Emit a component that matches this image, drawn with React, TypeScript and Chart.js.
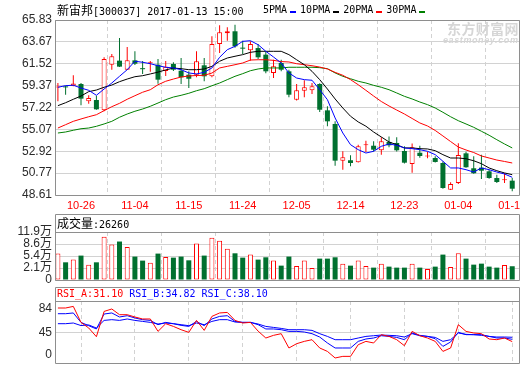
import React, { useEffect, useRef } from "react";
import { Chart, registerables } from "chart.js";

Chart.register(...registerables);

// ---------- data ----------
const STOCK_NAME = "新宙邦";
const STOCK_CODE = "300037";
const STAMP = "2017-01-13 15:00";
const VOLUME_LABEL = "成交量";
const VOLUME_NOW = "26260";

const X_TICK_POS = [3, 10, 17, 24, 31, 38, 45, 52, 59];
const X_LABELS = ["10-26", "11-04", "11-15", "11-24", "12-05", "12-14", "12-23", "01-04", "01-13"];

const OPEN = [59.20,59.24,59.37,59.53,57.83,57.96,56.94,61.43,61.83,60.94,61.86,61.05,61.57,61.43,60.81,61.50,60.84,60.45,60.45,61.37,60.29,63.47,64.52,64.72,63.05,62.85,63.07,62.42,60.62,61.60,60.78,57.99,58.87,58.91,59.53,56.94,55.60,51.99,52.03,51.83,53.50,53.46,53.01,53.83,53.73,52.94,51.66,52.77,52.40,52.25,51.76,49.13,49.79,52.71,51.24,51.30,50.94,50.28,50.06,50.02];
const HIGH = [59.63,59.37,60.39,59.63,58.42,58.38,62.16,62.48,64.06,63.17,62.75,61.80,61.80,61.99,61.80,61.67,62.09,60.78,62.75,62.09,64.23,65.31,65.11,65.37,63.79,63.73,63.47,62.75,61.93,61.93,60.94,59.53,59.90,59.63,59.60,57.34,55.86,52.91,52.52,53.56,53.95,53.89,54.29,54.37,54.29,53.40,53.67,53.46,52.87,52.42,51.90,49.86,53.70,52.87,52.42,52.56,51.10,50.60,50.78,50.28];
const LOW = [57.83,58.48,59.30,57.44,57.59,57.00,56.85,60.94,61.20,60.90,61.40,60.52,60.75,59.56,60.32,60.80,59.53,59.14,60.19,59.80,60.20,62.58,63.79,63.10,62.48,61.83,62.00,60.60,60.12,60.78,58.22,57.90,58.22,58.55,56.78,55.37,51.50,51.10,51.43,51.80,52.84,52.90,52.58,53.30,52.90,51.70,50.81,52.28,52.22,51.80,49.23,49.10,49.70,51.30,50.70,50.19,50.20,49.80,49.79,48.98];
const CLOSE = [59.24,59.20,59.57,58.09,58.16,57.04,61.99,62.26,61.24,61.86,61.53,60.99,61.65,59.96,61.24,60.94,60.19,60.05,61.77,60.29,63.47,64.62,64.72,63.24,63.01,63.47,62.16,60.78,61.27,60.94,58.48,58.91,59.21,59.31,57.00,55.86,51.99,52.32,51.76,53.40,53.60,53.07,53.89,53.50,53.01,51.79,53.30,52.45,52.45,51.86,49.30,49.69,52.55,51.34,50.75,51.00,50.28,49.89,50.12,49.23];

const MA5 = [59.21,59.37,59.41,59.14,58.91,58.42,59.04,59.63,60.29,60.94,61.77,61.67,61.53,61.33,61.18,61.11,60.94,60.62,60.52,60.68,61.11,62.16,62.91,63.24,63.73,63.79,63.40,62.75,62.19,61.60,60.62,60.12,59.96,59.90,58.97,57.99,56.19,54.71,53.56,53.07,52.74,52.91,53.40,53.63,53.50,53.24,53.17,53.07,52.91,52.58,51.93,51.27,51.27,51.10,50.87,51.27,51.10,50.87,50.68,50.35];
const MA10 = [57.40,57.69,58.03,58.35,58.78,58.94,59.21,59.43,59.76,60.02,60.25,60.35,60.52,60.70,60.92,61.10,61.04,60.94,60.94,61.01,61.27,61.77,62.09,62.26,62.42,62.65,62.75,62.75,62.75,62.75,62.42,61.92,61.43,60.78,59.96,59.04,58.06,57.17,56.36,55.80,55.38,54.81,54.32,53.83,53.56,53.24,53.24,53.17,53.14,52.97,52.58,52.25,52.25,52.18,51.98,51.69,51.27,51.00,50.78,50.61];
const MA20 = [55.20,55.53,55.86,56.09,56.31,56.51,56.91,57.30,57.63,58.03,58.38,58.72,58.97,59.46,59.80,60.02,60.22,60.32,60.37,60.39,60.61,61.11,61.27,61.43,61.60,61.89,61.92,61.92,61.86,61.74,61.70,61.53,61.43,61.33,61.20,61.01,60.68,60.39,59.96,59.46,58.91,58.35,57.81,57.37,56.97,56.58,56.14,55.70,55.40,54.96,54.42,53.87,53.33,53.04,52.79,52.45,52.25,52.05,51.91,51.76];
const MA30 = [54.71,54.81,54.98,55.13,55.20,55.37,55.60,55.86,56.26,56.58,56.85,57.07,57.34,57.66,57.99,58.25,58.42,58.62,58.87,59.07,59.36,59.63,59.96,60.29,60.55,60.84,61.01,61.11,61.11,61.11,61.18,61.18,61.18,61.18,61.14,61.04,60.62,60.29,60.05,59.80,59.63,59.40,59.21,58.97,58.65,58.32,58.06,57.76,57.50,57.17,56.75,56.31,55.92,55.60,55.27,54.88,54.49,54.05,53.63,53.24];

// volume in 万
const VOLUME = [6.05,3.69,4.42,5.51,3.06,3.69,10.59,8.50,9.32,7.87,5.24,4.15,3.60,6.05,5.16,4.96,5.24,4.23,8.77,5.51,10.32,9.50,7.33,6.13,4.96,5.78,4.42,5.05,4.15,2.79,5.24,2.71,4.15,2.16,4.69,4.69,5.05,3.33,2.79,4.15,2.71,2.25,3.33,2.52,2.25,2.25,3.33,2.25,1.89,2.52,5.78,2.43,6.14,4.69,3.06,3.33,2.52,2.25,2.98,2.626];

const RSI_A = [85.3,85.3,87.9,62.1,53.1,39.0,79.8,83.7,74.5,74.5,70.8,67.6,67.6,47.6,60.0,55.6,50.3,46.0,65.3,49.2,71.8,77.3,78.2,65.3,61.1,62.1,48.0,36.9,41.2,43.9,20.8,27.7,31.5,34.2,20.8,15.3,4.7,7.3,7.3,26.1,31.5,28.9,42.3,39.5,34.2,24.5,47.6,40.6,36.9,31.5,15.3,20.8,58.4,47.6,45.0,43.9,35.3,34.2,36.9,31.10];
const RSI_B = [76.1,76.1,77.3,62.1,56.8,51.5,75.6,77.3,70.8,72.9,69.2,66.5,65.3,58.4,62.1,60.0,57.3,55.6,63.7,56.8,67.6,71.8,72.9,63.7,62.1,62.1,58.4,51.5,51.5,50.3,47.6,47.6,46.6,43.9,38.5,28.9,20.8,20.8,20.8,31.5,35.3,36.9,40.6,39.5,37.9,34.2,45.0,41.2,39.5,35.8,23.4,30.5,46.0,42.3,42.3,42.3,39.5,36.9,36.9,34.82];
const RSI_C = [60.0,60.0,61.1,57.0,58.0,53.0,65.3,66.5,65.3,67.6,65.3,63.7,62.1,59.5,61.1,60.0,58.4,56.8,61.1,58.4,63.7,66.5,66.5,62.7,62.1,62.1,59.5,55.6,54.0,52.4,50.3,50.3,50.3,49.2,43.9,39.5,34.2,34.2,34.2,36.9,39.5,40.6,41.7,41.2,40.6,38.5,43.9,40.6,39.5,37.9,31.5,34.2,45.0,42.8,42.3,41.2,39.5,38.5,38.5,38.10];

const PRICE_TICKS = [48.61, 50.77, 52.92, 55.07, 57.22, 59.37, 61.52, 63.67, 65.83];
const VOL_TICKS = [-1.1, 2.15, 5.4, 8.65, 11.9];
const VOL_TICK_LABELS = ["0", "2.1万", "5.4万", "8.6万", "11.9万"];
const RSI_TICKS = [0, 45, 84];
const RSI_GRID_VALUE = 45;

const MA_LEGEND = ["5PMA", "10PMA", "20PMA", "30PMA"];
const RSI_LEGEND = ["RSI_A", "RSI_B", "RSI_C"];

// ---------- styles ----------
const RED = "#FF0000";
const DOWN = "#00702F";
const BLUE = "#0000FF";
const MA_COLORS = [BLUE, "#000000", RED, "#008000"];
const RSI_COLORS = [RED, BLUE, BLUE];
const FRAME = "#8E8E8E";
const GRID = "#D2D2D2";
const AXIS_TEXT = "#2A2A2A";
const X_MIN = -0.377;
const X_MAX = 59.88;
const MONO = "'DejaVu Sans Mono', monospace";
const CJK = "'Noto Sans CJK SC', sans-serif";

Chart.defaults.font.family = "'Liberation Sans', 'Noto Sans CJK SC', sans-serif";
Chart.defaults.font.size = 12;

const IDX = CLOSE.map((_, i) => i);
const isUp = (i: number) => CLOSE[i] >= OPEN[i];

const framePlugin = {
  id: "frame",
  afterDraw(chart: any, _args: any, opts: any) {
    const { ctx, chartArea: a } = chart;
    const l = a.left + 0.5, r = a.right + 0.5, t = a.top + 0.5, b = a.bottom + 0.5;
    const top = opts && typeof opts.headerTop === "number" ? opts.headerTop + 0.5 : t;
    ctx.save();
    ctx.setLineDash([]);
    ctx.strokeStyle = FRAME;
    ctx.lineWidth = 1;
    ctx.beginPath();
    ctx.moveTo(l, top);
    ctx.lineTo(r, top);
    ctx.lineTo(r, b);
    ctx.lineTo(l, b);
    ctx.closePath();
    ctx.moveTo(l, t);
    ctx.lineTo(r, t);
    ctx.stroke();
    ctx.restore();
  },
};

// keeps y tick labels inside the panel box (like the bottom "0" of the RSI panel)
const clampLabelsPlugin = {
  id: "clampLabels",
  beforeDraw(chart: any, _args: any, opts: any) {
    if (!opts || typeof opts.margin !== "number") return;
    const s = chart.scales.y;
    if (!s || !s.getLabelItems) return;
    const items = s.getLabelItems(chart.chartArea);
    const lim = chart.chartArea.bottom - opts.margin;
    items.forEach((it: any) => {
      const tr = it && it.options && it.options.translation;
      if (tr && tr[1] > lim) tr[1] = lim;
    });
  },
};

function xScale(showLabels: boolean) {
  return {
    type: "linear",
    min: X_MIN,
    max: X_MAX,
    offset: false,
    afterBuildTicks: (s: any) => {
      s.ticks = X_TICK_POS.map((v) => ({ value: v }));
    },
    afterFit: (s: any) => {
      s.height = showLabels ? 17 : 0;
    },
    grid: { color: GRID, drawTicks: false, lineWidth: 1 },
    border: { display: false, dash: [4, 3] },
    ticks: {
      display: showLabels,
      autoSkip: false,
      maxRotation: 0,
      padding: 4,
      color: RED,
      font: { size: 11, family: "'Liberation Sans'" },
      callback: (v: number) => {
        const k = X_TICK_POS.indexOf(v);
        return k >= 0 ? X_LABELS[k] : "";
      },
    },
  };
}

function yScale(min: number, max: number, ticks: number[], label: (v: number, i: number) => string, gridColor: any) {
  return {
    type: "linear",
    position: "left",
    min,
    max,
    afterBuildTicks: (s: any) => {
      s.ticks = ticks.map((v) => ({ value: v }));
    },
    afterFit: (s: any) => {
      s.width = 55;
    },
    grid: { color: gridColor, drawTicks: false, lineWidth: 1 },
    border: { display: false },
    ticks: { padding: 3, color: AXIS_TEXT, font: { size: 12 }, autoSkip: false, callback: label },
  };
}

const baseOptions = (padTop: number, padBottom: number) => ({
  responsive: false,
  animation: false as const,
  events: [] as any[],
  layout: { padding: { top: padTop, right: 21, left: 0, bottom: padBottom } },
});

function priceConfig(): any {
  const mas = [MA5, MA10, MA20, MA30];
  return {
    type: "bar",
    data: {
      datasets: [
        ...mas.map((arr, k) => ({
          type: "line",
          data: arr.map((y, i) => ({ x: i, y })),
          borderColor: MA_COLORS[k],
          borderWidth: 1,
          pointRadius: 0,
          tension: 0,
          order: 1,
        })),
        {
          type: "bar",
          data: IDX.map((i) => ({ x: i, y: [OPEN[i], CLOSE[i]] })),
          backgroundColor: IDX.map((i) => (isUp(i) ? "#FFFFFF" : DOWN)),
          borderColor: IDX.map((i) => (isUp(i) ? RED : DOWN)),
          borderWidth: IDX.map((i) => (isUp(i) ? 1 : 0)),
          borderSkipped: false,
          maxBarThickness: 5,
          minBarLength: 1,
          grouped: false,
          order: 2,
        },
        {
          type: "bar",
          data: IDX.map((i) => ({ x: i, y: [LOW[i], HIGH[i]] })),
          backgroundColor: IDX.map((i) => (isUp(i) ? RED : DOWN)),
          borderWidth: 0,
          maxBarThickness: 1,
          grouped: false,
          order: 3,
        },
      ],
    },
    options: {
      ...baseOptions(20, 0),
      plugins: { legend: { display: false }, tooltip: { enabled: false }, frame: {}, clampLabels: {} },
      scales: {
        x: xScale(true),
        y: yScale(PRICE_TICKS[0], PRICE_TICKS[PRICE_TICKS.length - 1], PRICE_TICKS, (v) => Number(v).toFixed(2), GRID),
      },
    },
    plugins: [framePlugin],
  };
}

function volumeConfig(): any {
  return {
    type: "bar",
    data: {
      datasets: [
        {
          type: "bar",
          data: IDX.map((i) => ({ x: i, y: VOLUME[i] })),
          base: VOL_TICKS[0],
          backgroundColor: IDX.map((i) => (isUp(i) ? "#FFFFFF" : DOWN)),
          borderColor: IDX.map((i) => (isUp(i) ? RED : DOWN)),
          borderWidth: IDX.map((i) => (isUp(i) ? 1 : 0)),
          borderSkipped: false,
          maxBarThickness: 5,
          grouped: false,
        },
      ],
    },
    options: {
      ...baseOptions(20, 12),
      plugins: { legend: { display: false }, tooltip: { enabled: false }, frame: { headerTop: 2 } },
      scales: {
        x: xScale(false),
        y: yScale(VOL_TICKS[0], VOL_TICKS[VOL_TICKS.length - 1], VOL_TICKS, (_v, i) => VOL_TICK_LABELS[i], GRID),
      },
    },
    plugins: [framePlugin],
  };
}

function rsiConfig(): any {
  const series = [RSI_A, RSI_B, RSI_C];
  return {
    type: "line",
    data: {
      datasets: series.map((arr, k) => ({
        type: "line",
        data: arr.map((y, i) => ({ x: i, y })),
        borderColor: RSI_COLORS[k],
        borderWidth: 1,
        pointRadius: 0,
        tension: 0,
      })),
    },
    options: {
      ...baseOptions(16, 14),
      plugins: {
        legend: { display: false },
        tooltip: { enabled: false },
        frame: { headerTop: 2 },
        clampLabels: { margin: 8 },
      },
      scales: {
        x: xScale(false),
        y: yScale(-3.4, 96.6, RSI_TICKS, (v) => String(v), (c: any) =>
          c.tick && c.tick.value === RSI_GRID_VALUE ? GRID : "rgba(0,0,0,0)"
        ),
      },
    },
    plugins: [framePlugin, clampLabelsPlugin],
  };
}

const monoText: React.CSSProperties = {
  position: "absolute",
  fontFamily: MONO,
  fontSize: 10,
  lineHeight: "12px",
  whiteSpace: "pre",
  color: "#000",
};

export default function App() {
  const priceRef = useRef<HTMLCanvasElement>(null);
  const volRef = useRef<HTMLCanvasElement>(null);
  const rsiRef = useRef<HTMLCanvasElement>(null);

  useEffect(() => {
    const charts = [
      new Chart(priceRef.current as HTMLCanvasElement, priceConfig()),
      new Chart(volRef.current as HTMLCanvasElement, volumeConfig()),
      new Chart(rsiRef.current as HTMLCanvasElement, rsiConfig()),
    ];
    return () => charts.forEach((c) => c.destroy());
  }, []);

  const lastRsi = [RSI_A, RSI_B, RSI_C].map((a) => a[a.length - 1].toFixed(2));

  return (
    <div style={{ position: "absolute", left: 0, top: 0, width: 520, height: 365, overflow: "hidden", background: "#fff" }}>
      <canvas ref={priceRef} width={540} height={212} style={{ position: "absolute", left: 0, top: 0 }} />
      <canvas ref={volRef} width={540} height={80} style={{ position: "absolute", left: 0, top: 212 }} />
      <canvas ref={rsiRef} width={540} height={92} style={{ position: "absolute", left: 0, top: 285 }} />

      {/* watermark */}
      <div style={{ position: "absolute", left: 447, top: 21, fontFamily: CJK, fontWeight: 700, fontSize: 14, lineHeight: "15px", color: "#D6D6D6", letterSpacing: 0.4, whiteSpace: "pre" }}>
        东方财富网
      </div>
      <div style={{ position: "absolute", left: 443, top: 36, fontFamily: "'Liberation Sans'", fontStyle: "italic", fontWeight: 700, fontSize: 9, lineHeight: "9px", color: "#D6D6D6", letterSpacing: 0.6, whiteSpace: "pre" }}>
        eastmoney.com
      </div>

      {/* title */}
      <div style={{ ...monoText, left: 57, top: 4 }}>
        <span style={{ fontFamily: CJK, fontSize: 12 }}>{STOCK_NAME}</span>[{STOCK_CODE}] {STAMP}
      </div>

      {/* MA legend */}
      <div style={{ position: "absolute", left: 263, top: 4, height: 12, display: "flex", alignItems: "center" }}>
        {MA_LEGEND.map((t, k) => (
          <div key={t} style={{ display: "flex", alignItems: "center", marginRight: 4.5 }}>
            <span style={{ fontFamily: MONO, fontSize: 10, lineHeight: "12px", whiteSpace: "pre", color: "#000" }}>{t}</span>
            <span style={{ display: "inline-block", width: 6, height: 2, marginLeft: 2.5, background: MA_COLORS[k], position: "relative", top: 2 }} />
          </div>
        ))}
      </div>

      {/* volume header */}
      <div style={{ ...monoText, left: 57, top: 217 }}>
        <span style={{ fontFamily: CJK, fontSize: 12 }}>{VOLUME_LABEL}</span>:{VOLUME_NOW}
      </div>

      {/* RSI header */}
      <div style={{ ...monoText, left: 57, top: 288 }}>
        {RSI_LEGEND.map((t, k) => (
          <span key={t} style={{ color: RSI_COLORS[k] }}>
            {t}:{lastRsi[k]}
            {k < RSI_LEGEND.length - 1 ? " " : ""}
          </span>
        ))}
      </div>
    </div>
  );
}
